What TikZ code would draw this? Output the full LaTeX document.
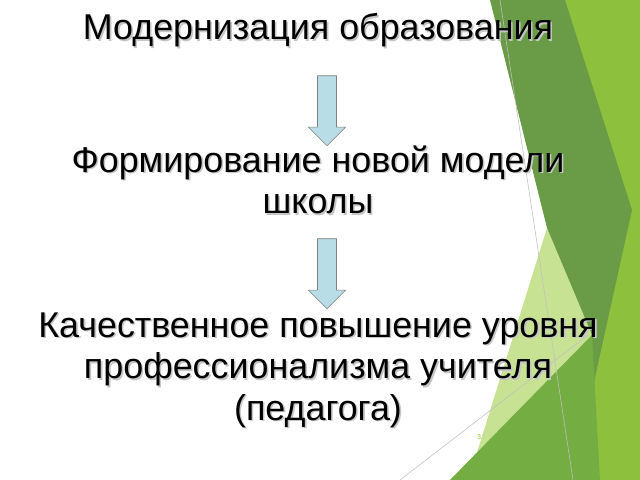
\documentclass[tikz,border=0pt]{standalone}
\usepackage{fontspec}
\setmainfont{Liberation Sans}
\usetikzlibrary{shapes.arrows}
\definecolor{darkleaf}{HTML}{6A9C48}
\definecolor{leaf}{HTML}{8DC03C}
\definecolor{paleleaf}{HTML}{C8E294}
\definecolor{midleaf}{HTML}{74AE42}
\definecolor{arrowfill}{HTML}{B9DDE6}
\begin{document}
\begin{tikzpicture}[
            x = 0.025cm, y = -0.025cm,
            every node/.style = {font=\fontsize{25.5}{29.5}\selectfont, align=center},
            shadowtext/.style = {text=black},
            downarrow/.style = {
                single arrow, draw = gray, fill = arrowfill,
                shape border rotate = 270,
                minimum height = 1.75cm, minimum width = 0cm,
                single arrow head extend = 0.23cm, inner sep = 0.23cm
            }
        ]

        \useasboundingbox (0,0) rectangle (640,480);

        % facet decoration
        \fill[leaf] (560,0) -- (640,0) -- (640,480) -- (545,480) -- cycle;
        \fill[darkleaf] (490,0) -- (565,0) -- (632,210) -- (590,400) -- cycle;
        \fill[paleleaf] (547,228) -- (592,335) -- (470,475) -- cycle;
        \fill[midleaf] (592,335) -- (600,480) -- (450,480) -- cycle;
        \draw[gray!50] (500,0) -- (573,480);
        \draw[gray!50] (400,480) -- (588,335);

        % texts
        \foreach \name/\y/\txt in {
            modern/30/{Модернизация образования},
            model/180/{Формирование новой модели\\школы},
            level/370/{Качественное повышение уровня\\профессионализма учителя\\(педагога)}} {
            \node[text=gray!45] at (319.6,\y+1.6) {\txt};
            \node[shadowtext] (\name) at (318,\y) {\txt};
        }

        \node[downarrow] (arrA) at (327,106) {};
        \node[downarrow] (arrB) at (327,269) {};

        \node[font=\tiny, text=leaf] (page) at (479,437) {3};

    \end{tikzpicture}
\end{document}
